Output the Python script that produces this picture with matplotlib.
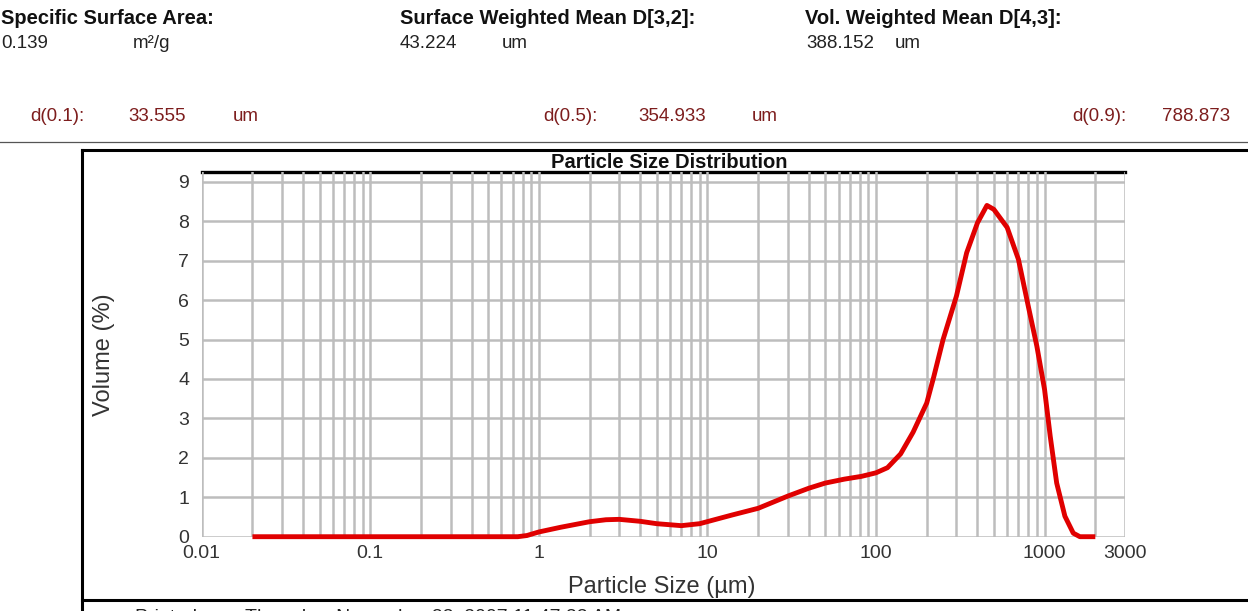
import matplotlib
matplotlib.use("Agg")
import matplotlib.pyplot as plt
from matplotlib.lines import Line2D

plt.rcParams['font.family'] = ['Liberation Sans', 'DejaVu Sans']

# Particle size distribution (volume %, per size class)
size_um = [0.02, 0.1, 0.5, 0.75, 0.85, 1.0, 1.35, 2.0, 2.5, 3.0, 4.0, 5.0, 7.0,
           9.0, 14, 20, 30, 40, 50, 65, 82, 100, 117, 140, 166, 200, 220, 250,
           300, 345, 400, 455, 500, 600, 700, 800, 900, 1000, 1080, 1180, 1320,
           1480, 1620, 2000]
volume_pct = [0, 0, 0, 0, 0.03, 0.12, 0.24, 0.38, 0.43, 0.44, 0.39, 0.33, 0.28,
              0.33, 0.55, 0.72, 1.03, 1.23, 1.36, 1.46, 1.53, 1.62, 1.75, 2.10,
              2.65, 3.39, 4.05, 5.0, 6.1, 7.2, 7.96, 8.4, 8.3, 7.84, 7.03, 5.85,
              4.83, 3.73, 2.55, 1.36, 0.52, 0.09, 0.0, 0.0]

x_major = [0.01, 0.1, 1, 10, 100, 1000, 3000]
x_major_labels = ["0.01", "0.1", "1", "10", "100", "1000", "3000"]
y_ticks = [0, 1, 2, 3, 4, 5, 6, 7, 8, 9]

# Summary statistics shown in the report header
header_titles = ["Specific Surface Area:", "Surface Weighted Mean D[3,2]:",
                 "Vol. Weighted Mean D[4,3]:"]
header_values = ["0.139", "43.224", "388.152"]
header_units = ["m\u00b2/g", "um", "um"]
pct_labels = ["d(0.1):", "d(0.5):", "d(0.9):"]
pct_values = ["33.555", "354.933", "788.873"]

W, H = 1248, 611
fig = plt.figure(figsize=(W / 100, H / 100), dpi=100)


def fx(px):
    return px / W


def fy(py):
    return 1 - py / H


# Header block
title_x = [1, 400, 805]
value_x = [1, 400, 806]
unit_x = [133, 502, 895]
for t, v, u, x0, x1, x2 in zip(header_titles, header_values, header_units,
                                title_x, value_x, unit_x):
    fig.text(fx(x0), fy(19), t, fontsize=14.5, fontweight='bold',
             ha='left', va='center', color='#111111')
    fig.text(fx(x1), fy(43), v, fontsize=13.5, ha='left', va='center',
             color='#222222')
    fig.text(fx(x2), fy(43), u, fontsize=13.5, ha='left', va='center',
             color='#222222')

red_dark = '#7d1d1d'
pl_x = [30, 543, 1072]
pv_x = [128, 638, 1162]
pu_x = [233, 752, None]
for lab, val, x0, x1, x2 in zip(pct_labels, pct_values, pl_x, pv_x, pu_x):
    fig.text(fx(x0), fy(117), lab, fontsize=13.5, ha='left', va='center',
             color=red_dark)
    fig.text(fx(x1), fy(117), val, fontsize=13.5, ha='left', va='center',
             color=red_dark)
    if x2 is not None:
        fig.text(fx(x2), fy(117), "um", fontsize=13.5, ha='left',
                 va='center', color=red_dark)

# Rules and frame around the graph panel
fig.add_artist(Line2D([0, 1], [fy(142), fy(142)], transform=fig.transFigure,
                      color='#555555', lw=0.9))
fig.add_artist(Line2D([fx(82), 1], [fy(150), fy(150)], transform=fig.transFigure,
                      color='black', lw=2.2))
fig.add_artist(Line2D([fx(82), fx(82)], [fy(150), 0], transform=fig.transFigure,
                      color='black', lw=2.2))
fig.add_artist(Line2D([fx(82), 1], [fy(600), fy(600)], transform=fig.transFigure,
                      color='black', lw=2.2))
fig.text(fx(135), fy(617), "Printed:        Thursday, November 22, 2007 11:47:33 AM",
         fontsize=14, ha='left', va='center', color='#222222')

# Plot area
ax_left, ax_right = 201.7, 1125
ax_top, ax_bottom = 172.3, 536.7
ax = fig.add_axes([fx(ax_left), fy(ax_bottom), fx(ax_right - ax_left),
                   (ax_bottom - ax_top) / H])
ax.set_xscale('log')
ax.set_xlim(0.01, 3000)
ax.set_ylim(0, 9.24)

minor = []
for dec in [0.01, 0.1, 1, 10, 100]:
    minor += [dec * k for k in range(2, 10)]
minor += [2000]
ax.set_xticks(x_major)
ax.set_xticklabels(x_major_labels)
ax.set_xticks(minor, minor=True)
ax.xaxis.set_minor_formatter(matplotlib.ticker.NullFormatter())
ax.set_yticks(y_ticks)
ax.tick_params(which='both', length=0)
ax.tick_params(axis='x', pad=6, labelsize=14, labelcolor='#333333')
ax.tick_params(axis='y', pad=9, labelsize=14, labelcolor='#333333')

ax.set_axisbelow(False)
ax.grid(True, which='both', color='#bdbdbd', lw=1.8, zorder=3)
for side in ['left', 'right', 'bottom']:
    ax.spines[side].set_visible(False)
ax.spines['top'].set_linewidth(2.4)
ax.spines['top'].set_zorder(2)

ax.plot(size_um, volume_pct, color='#e00000', lw=3.5, zorder=5,
        clip_on=False, solid_capstyle='butt')

fig.text(fx(669), fy(162), "Particle Size Distribution", fontsize=14.5,
         fontweight='bold', ha='center', va='center', color='#111111')
fig.text(fx(104), fy(355), "Volume (%)", fontsize=17, rotation=90,
         ha='center', va='center', color='#333333')
fig.text(fx(662), fy(587), "Particle Size (\u00b5m)", fontsize=17,
         ha='center', va='center', color='#333333')

fig.savefig("out.png", dpi=100)
